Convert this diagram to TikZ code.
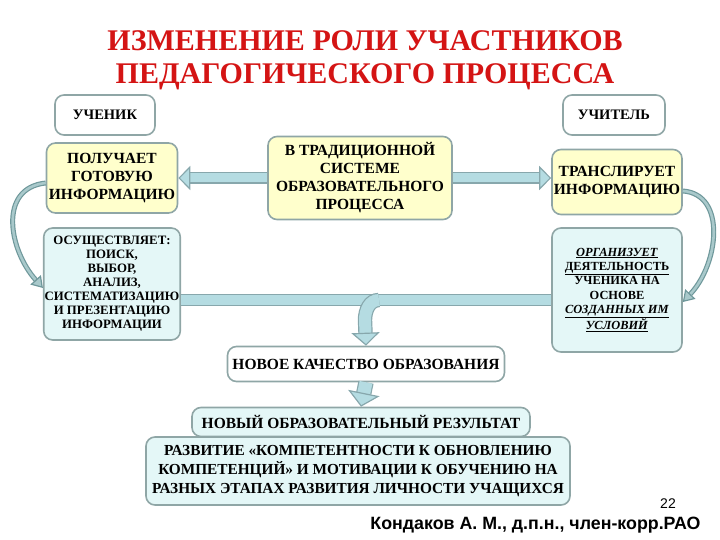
\documentclass[tikz,border=0pt]{standalone}
\usepackage{fontspec}
\setmainfont{Liberation Serif}
\newfontfamily\signfont{Liberation Sans}
\usetikzlibrary{arrows.meta, positioning}
\definecolor{TitleRed}{HTML}{D41414}
\definecolor{Edge}{HTML}{8FA6A6}
\definecolor{SoftYellow}{HTML}{FFFFCC}
\definecolor{SoftCyan}{HTML}{E4F7F7}
\definecolor{BandFill}{HTML}{B5DCE2}
\definecolor{BandEdge}{HTML}{87A7AC}
\definecolor{CurveEdge}{HTML}{6F989B}
\definecolor{CurveFill}{HTML}{A9C9CB}

\begin{document}
\begin{tikzpicture}[x=1pt, y=-1pt,
  bigtext/.style={font=\bfseries\fontsize{15.5}{18}\selectfont},
  smalltext/.style={font=\bfseries\fontsize{12.8}{14}\selectfont},
  nodebox/.style={rounded corners=9pt, draw=Edge, line width=1.6pt, align=center, inner sep=1pt, fill=white, bigtext},
  rolebox/.style={nodebox, minimum width=100pt, minimum height=40pt, font=\bfseries\fontsize{14.5}{16}\selectfont},
  oldway/.style={nodebox, fill=SoftYellow},
  newway/.style={nodebox, fill=SoftCyan},
  band/.style={draw=BandEdge, line width=1.2pt, double=BandFill, double distance=9pt, -{Triangle[length=12pt, width=24pt, line width=1.2pt, fill=BandFill]}},
  wideband/.style={band, double distance=13pt, -{Triangle[length=14pt, width=32pt, line width=1.2pt, fill=BandFill]}},
  trunk/.style={draw=BandEdge, line width=1.2pt, double=BandFill, double distance=10pt},
  curve/.style={draw=CurveEdge, line width=1.2pt, double=CurveFill, double distance=2.6pt, -{Triangle[length=11pt, width=14pt, line width=1.2pt, fill=CurveFill]}}
]
\useasboundingbox (0,0) rectangle (720,540);

% title
\node[font=\bfseries\fontsize{30}{33}\selectfont, text=TitleRed, align=center] (title) at (365,60) {ИЗМЕНЕНИЕ РОЛИ УЧАСТНИКОВ\\ПЕДАГОГИЧЕСКОГО ПРОЦЕССА};

% roles
\node[rolebox] (pupil) at (105,115) {УЧЕНИК};
\node[rolebox, minimum width=102pt] (teacher) at (614,115) {УЧИТЕЛЬ};

% traditional system
\node[oldway, minimum width=131pt, minimum height=70pt] (get) at (112,178) {ПОЛУЧАЕТ\\ГОТОВУЮ\\ИНФОРМАЦИЮ};
\node[oldway, minimum width=184pt, minimum height=83pt] (trad) at (360,178) {В ТРАДИЦИОННОЙ\\СИСТЕМЕ\\ОБРАЗОВАТЕЛЬНОГО\\ПРОЦЕССА};
\node[oldway, minimum width=130pt, minimum height=65pt] (relay) at (617,182) {ТРАНСЛИРУЕТ\\ИНФОРМАЦИЮ};

% new roles
\node[newway, smalltext, minimum width=131pt, minimum height=112pt] (act) at (112,284) {ОСУЩЕСТВЛЯЕТ:\\ПОИСК,\\ВЫБОР,\\АНАЛИЗ,\\СИСТЕМАТИЗАЦИЮ\\И ПРЕЗЕНТАЦИЮ\\ИНФОРМАЦИИ};
\node[newway, smalltext, font=\bfseries\fontsize{12.4}{14.3}\selectfont, minimum width=130pt, minimum height=124pt] (org) at (617,290) {\underline{\textit{ОРГАНИЗУЕТ}}\\\underline{ДЕЯТЕЛЬНОСТЬ}\\УЧЕНИКА НА\\ОСНОВЕ\\\underline{\textit{СОЗДАННЫХ ИМ}}\\\underline{\textit{УСЛОВИЙ}}};

% results
\node[nodebox, minimum width=277pt, minimum height=35pt] (qual) at (366,364) {НОВОЕ КАЧЕСТВО ОБРАЗОВАНИЯ};
\node[newway, minimum width=424pt, minimum height=68pt, font=\bfseries\fontsize{15.3}{19}\selectfont] (dev) at (358,471) {РАЗВИТИЕ «КОМПЕТЕНТНОСТИ К ОБНОВЛЕНИЮ\\КОМПЕТЕНЦИЙ» И МОТИВАЦИИ К ОБУЧЕНИЮ НА\\РАЗНЫХ ЭТАПАХ РАЗВИТИЯ ЛИЧНОСТИ УЧАЩИХСЯ};
\node[newway, minimum width=338pt, minimum height=29pt] (res) at (361,422) {НОВЫЙ ОБРАЗОВАТЕЛЬНЫЙ РЕЗУЛЬТАТ};

% signature
\node[font=\signfont\fontsize{14}{16}\selectfont] (page) at (668,504) {22};
\node[font=\signfont\bfseries\fontsize{17.8}{20}\selectfont, anchor=east] (author) at (704,525) {Кондаков А. М., д.п.н., член-корр.РАО};

% arrows
\draw[band] (trad.west) -- (get.east);
\draw[band] (trad.east) -- (trad.east -| relay.west);
\draw[curve] ([yshift=-5pt]get.west) .. controls +(-48,5) and +(-34,-38) .. ([yshift=-4pt]act.west);
\draw[curve] ([yshift=-9pt]relay.east) .. controls +(44,3) and +(36,-38) .. ([yshift=-12pt]org.east);
\coordinate (join) at (365,300);
\draw[trunk] (join -| act.east) -- (join -| org.west);
\draw[band, double distance=12pt, -{Triangle[length=13pt, width=28pt, line width=1.2pt, fill=BandFill]}] ([xshift=14pt]join) to[out=180, in=90] ([yshift=-20pt]join) -- (qual.north);
\draw[wideband] (qual.south) -- (res.north);
\end{tikzpicture}
\end{document}
